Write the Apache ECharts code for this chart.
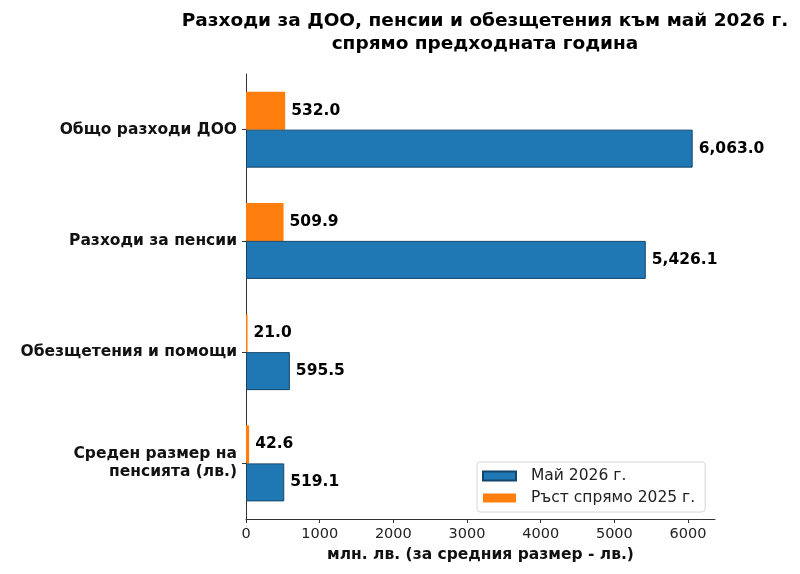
<!DOCTYPE html>
<html>
<head>
<meta charset="utf-8">
<script src="https://cdn.jsdelivr.net/npm/echarts@6/dist/echarts.min.js"></script>
<style>html,body{margin:0;padding:0;background:#fff}#c{width:800px;height:574px}</style>
</head>
<body>
<div id="c"></div>
<script>
const categories = ['Общо разходи ДОО', 'Разходи за пенсии', 'Обезщетения и помощи', 'Среден размер на\nпенсията (лв.)'];
const mayValues = [6063.0, 5426.1, 595.5, 519.1];
const growthValues = [532.0, 509.9, 21.0, 42.6];
const xTicks = [0, 1000, 2000, 3000, 4000, 5000, 6000];
const seriesNames = ['Май 2026 г.', 'Ръст спрямо 2025 г.'];

const FONT = 'DejaVu Sans';
const fmt = v => v.toLocaleString('en-US', {minimumFractionDigits: 1, maximumFractionDigits: 1});
const chart = echarts.init(document.getElementById('c'));
const labelCfg = {
  show: true, position: 'right', distance: 6,
  fontFamily: FONT, fontWeight: 'bold', fontSize: 15.5, color: '#000',
  formatter: p => fmt(p.value)
};
chart.setOption({
  animation: false,
  title: {
    text: 'Разходи за ДОО, пенсии и обезщетения към май 2026 г.\nспрямо предходната година',
    left: 480, top: 5, textAlign: 'center',
    textStyle: {fontFamily: FONT, fontWeight: 'bold', fontSize: 18.5, color: '#000', lineHeight: 23}
  },
  legend: {
    orient: 'vertical', left: 477, top: 462,
    data: seriesNames,
    icon: 'rect',
    itemWidth: 33, itemHeight: 9, itemGap: 6,
    padding: [6, 10, 6, 5],
    borderColor: '#d6d6d6', borderWidth: 1, borderRadius: 3,
    backgroundColor: 'rgba(255,255,255,0.8)',
    textStyle: {fontFamily: FONT, fontSize: 15.5, color: '#222', lineHeight: 16, padding: [0, 0, 0, 10]}
  },
  grid: {left: 246, right: 85, top: 74, height: 445},
  xAxis: {
    type: 'value', min: 0, max: 6366,
    axisLine: {show: true, lineStyle: {color: '#333', width: 1}},
    axisTick: {show: true, length: 4, customValues: xTicks, lineStyle: {color: '#333'}},
    splitLine: {show: false},
    axisLabel: {fontFamily: FONT, fontSize: 14.5, color: '#222', margin: 8, customValues: xTicks,
      formatter: v => String(v)},
    name: 'млн. лв. (за средния размер - лв.)', nameLocation: 'middle', nameGap: 24,
    nameTextStyle: {fontFamily: FONT, fontWeight: 'bold', fontSize: 15.5, color: '#111'}
  },
  yAxis: {
    type: 'category', data: categories, inverse: true,
    axisLine: {show: true, lineStyle: {color: '#333', width: 1}},
    axisTick: {show: true, alignWithLabel: true, length: 4, lineStyle: {color: '#333'}},
    axisLabel: {fontFamily: FONT, fontWeight: 'bold', fontSize: 15.5, color: '#111', margin: 9, align: 'right', lineHeight: 18}
  },
  series: [
    {name: seriesNames[1], type: 'bar', data: growthValues, barWidth: 38, barGap: '0%',
     itemStyle: {color: '#ff7f0e'}, label: labelCfg},
    {name: seriesNames[0], type: 'bar', data: mayValues, barWidth: 38, barGap: '0%',
     itemStyle: {color: '#1f77b4', borderColor: '#14466b', borderWidth: 1}, label: labelCfg}
  ]
});
</script>
</body>
</html>
